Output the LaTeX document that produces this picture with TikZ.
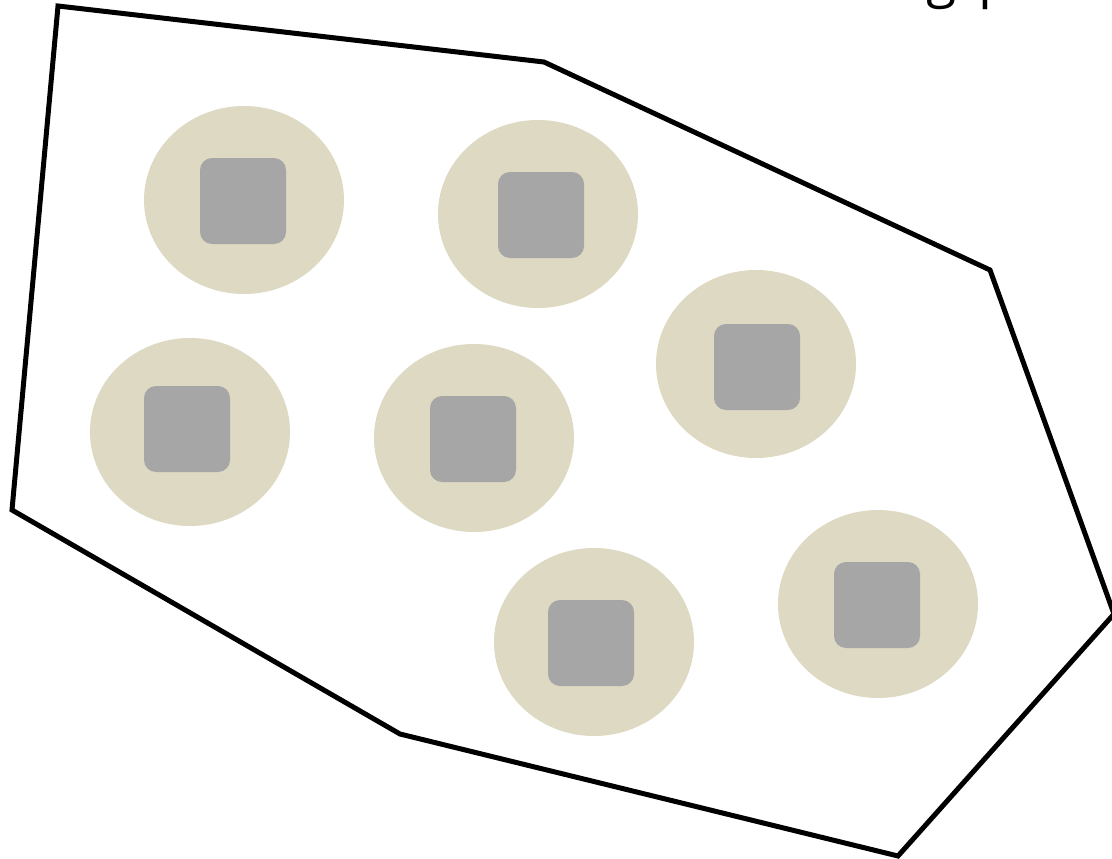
\documentclass[tikz,border=0pt]{standalone}
\usepackage{fontspec}
\setmainfont{Open Sans}
\usetikzlibrary{shapes.geometric}
\definecolor{beige}{HTML}{DDD9C3}
\definecolor{boxgray}{HTML}{A6A6A6}
\begin{document}
\begin{tikzpicture}[x=1pt,y=-1pt,
  cell/.style={ellipse,fill=beige,minimum width=200pt,minimum height=188pt,inner sep=0pt},
  core/.style={rectangle,fill=boxgray,rounded corners=12pt,minimum width=86pt,minimum height=86pt,inner sep=0pt},
  hull/.style={draw=black,line width=5pt,line join=miter}]
\clip (0,0) rectangle (1112,859);
\useasboundingbox (0,0) rectangle (1112,859);
\coordinate (p1) at (58,6);
\coordinate (p2) at (544,62);
\coordinate (p3) at (990,270);
\coordinate (p4) at (1114,614);
\coordinate (p5) at (898,856);
\coordinate (p6) at (400,734);
\coordinate (p7) at (12,510);
\draw[hull] (p1) -- (p2) -- (p3) -- (p4) -- (p5) -- (p6) -- (p7) -- cycle;
\node[cell] (c1) at (244,200) {};
\node[cell] (c2) at (538,214) {};
\node[cell] (c3) at (756,364) {};
\node[cell] (c4) at (190,432) {};
\node[cell] (c5) at (474,438) {};
\node[cell] (c6) at (594,642) {};
\node[cell] (c7) at (878,604) {};
\node[core] (k1) at (243,201) {};
\node[core] (k2) at (541,215) {};
\node[core] (k3) at (757,367) {};
\node[core] (k4) at (187,429) {};
\node[core] (k5) at (473,439) {};
\node[core] (k6) at (591,643) {};
\node[core] (k7) at (877,605) {};
\node[anchor=base west,inner sep=0pt,font=\fontsize{55}{60}\selectfont] (title) at (926,-3) {g\hspace{22pt}p};
\end{tikzpicture}
\end{document}
